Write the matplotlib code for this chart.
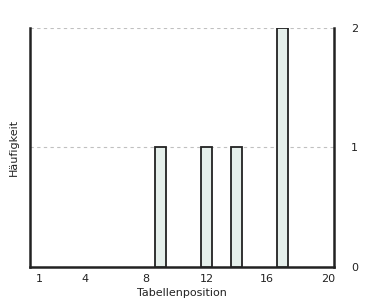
import matplotlib
matplotlib.use("Agg")
import matplotlib.pyplot as plt

# Data
positions = [9, 12, 14, 17]
counts = [1, 1, 1, 2]
xticks = [1, 4, 8, 12, 16, 20]
yticks = [0, 1, 2]

fig = plt.figure(figsize=(3.66, 3.03), dpi=100)
ax = fig.add_axes([0.082, 0.119, 0.831, 0.789])

ax.bar(positions, counts, width=0.72, color="#e5efeb", edgecolor="#222222",
       linewidth=1.3, zorder=3)

ax.set_xlim(0.4, 20.4)
ax.set_ylim(0, 2)
ax.set_xticks(xticks)
ax.set_yticks(yticks)
ax.tick_params(axis="x", length=0, pad=5, labelsize=8, colors="#222222")
ax.tick_params(axis="y", length=0, pad=12, labelsize=8, colors="#222222",
               left=False, labelleft=False, right=False, labelright=True)

ax.grid(axis="y", linestyle=(0, (3, 3)), color="#c0c0c0", linewidth=0.8, zorder=0)

for side in ["left", "right", "bottom"]:
    ax.spines[side].set_color("#222222")
    ax.spines[side].set_linewidth(1.8)
ax.spines["top"].set_visible(False)

ax.set_xlabel("Tabellenposition", fontsize=8, color="#222222", labelpad=3)
ax.set_ylabel("Häufigkeit", fontsize=8, color="#222222", labelpad=8)

fig.savefig("out.png", dpi=100)
